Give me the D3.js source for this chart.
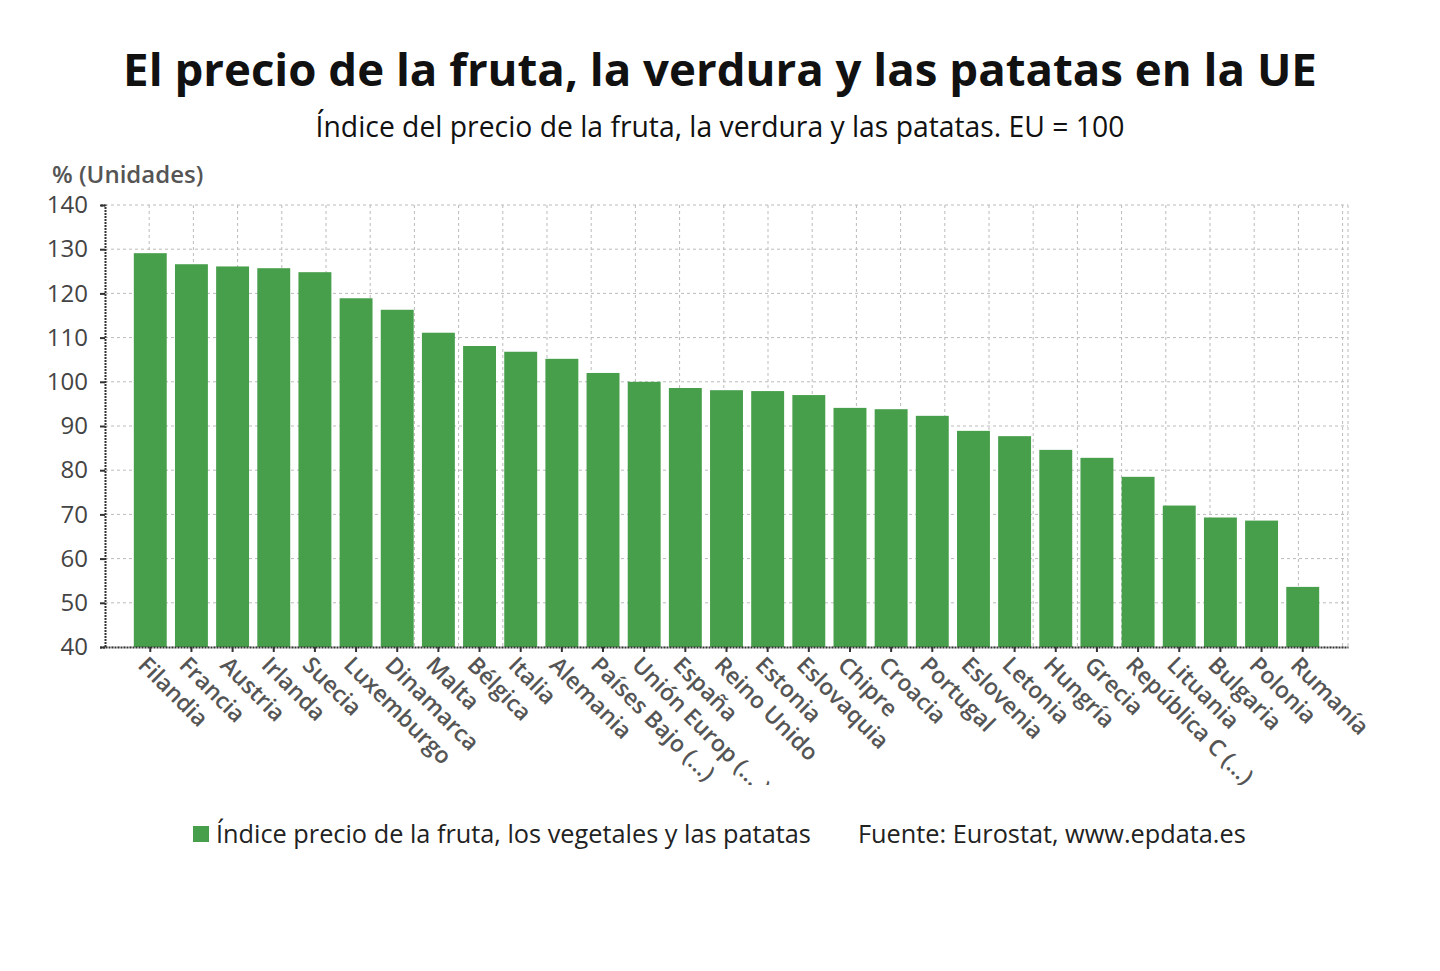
<!DOCTYPE html>
<html><head><meta charset="utf-8">
<script src="https://cdn.jsdelivr.net/npm/d3@7"></script>
<style>body{margin:0;background:#fff;font-family:"Open Sans",sans-serif;}</style>
</head><body>
<svg id="c" width="1440" height="971"></svg>
<script>
const categories = ["Filandia","Francia","Austria","Irlanda","Suecia","Luxemburgo","Dinamarca","Malta","Bélgica","Italia","Alemania","Países Bajo (...)","Unión Europ (... )","España","Reino Unido","Estonia","Eslovaquia","Chipre","Croacia","Portugal","Eslovenia","Letonia","Hungría","Grecia","República C (...)","Lituania","Bulgaria","Polonia","Rumanía"];
const values = [129.1,126.6,126.1,125.7,124.8,118.9,116.3,111.1,108.1,106.8,105.2,102.0,100.0,98.6,98.1,97.9,97.0,94.1,93.8,92.3,88.9,87.7,84.6,82.8,78.5,72.0,69.3,68.6,53.6];
const yTicks = [40,50,60,70,80,90,100,110,120,130,140];
const seriesName = "Índice precio de la fruta, los vegetales y las patatas";

const svg = d3.select("#c");
const L=105, R=1348, T=205, B=647;
const x = d3.scaleBand().domain(categories).range([L,R]).paddingInner(0.2).paddingOuter(0.7);
const y = d3.scaleLinear().domain([40,140]).range([B,T]);
const step10 = y(40)-y(50);

svg.append("defs").append("clipPath").attr("id","xclip")
  .append("rect").attr("x",0).attr("y",-5).attr("width",1440).attr("height",785-B+5);

// title
svg.append("text").attr("x",720).attr("y",86).attr("text-anchor","middle")
  .attr("font-size",45.6).attr("font-weight",700).attr("fill","#111")
  .text("El precio de la fruta, la verdura y las patatas en la UE");
svg.append("text").attr("x",720).attr("y",137).attr("text-anchor","middle")
  .attr("font-size",28.3).attr("fill","#111")
  .text("Índice del precio de la fruta, la verdura y las patatas. EU = 100");
svg.append("text").attr("x",52).attr("y",183).attr("font-size",24).attr("font-weight",600).attr("fill","#555")
  .text("% (Unidades)");

// grid
const g = svg.append("g");
yTicks.forEach(t=>{
  g.append("line").attr("x1",L).attr("x2",R).attr("y1",y(t)).attr("y2",y(t))
   .attr("stroke","#bbb").attr("stroke-width",1).attr("stroke-dasharray","3,3");
});
const vx = d3.range(1, Math.floor((R-L)/step10)+1).map(k=>L+k*step10);
vx.push(R);
vx.forEach(xx=>{
  g.append("line").attr("x1",xx).attr("x2",xx).attr("y1",T).attr("y2",B)
   .attr("stroke","#bbb").attr("stroke-width",1).attr("stroke-dasharray","3,3");
});

// bars
svg.append("g").selectAll("rect").data(values).join("rect")
  .attr("x",(d,i)=>x(categories[i])).attr("width",x.bandwidth())
  .attr("y",d=>y(d)).attr("height",d=>B-y(d)).attr("fill","#479f4b");

// y axis
const ya = svg.append("g").attr("transform",`translate(${L},0)`)
  .call(d3.axisLeft(y).tickValues(yTicks).tickSize(5).tickPadding(12));
ya.select(".domain").attr("stroke","#333").attr("stroke-width",2).attr("stroke-dasharray","2,1");
ya.selectAll(".tick line").attr("stroke","#333").attr("stroke-width",2);
ya.selectAll(".tick text").attr("font-size",24).attr("fill","#444").attr("font-family","Open Sans");

// x axis
const xa = svg.append("g").attr("transform",`translate(0,${B})`).attr("clip-path","url(#xclip)")
  .call(d3.axisBottom(x).tickSize(5).tickSizeOuter(0));
xa.select(".domain").attr("stroke","#333").attr("stroke-width",2).attr("stroke-dasharray","2,1");
xa.selectAll(".tick line").attr("stroke","#333").attr("stroke-width",2);
xa.selectAll(".tick text").attr("font-size",23).attr("fill","#555").attr("font-family","Open Sans")
  .attr("font-weight",600)
  .attr("text-anchor","start").attr("transform","translate(-2,8) rotate(45)").attr("dy","0.71em").attr("y",0);

// legend
svg.append("rect").attr("x",193).attr("y",826).attr("width",16).attr("height",16).attr("fill","#479f4b");
svg.append("text").attr("x",216).attr("y",843).attr("font-size",25.3).attr("fill","#222").text(seriesName);
svg.append("text").attr("x",858).attr("y",843).attr("font-size",25.3).attr("fill","#222").text("Fuente: Eurostat, www.epdata.es");
</script>
</body></html>
